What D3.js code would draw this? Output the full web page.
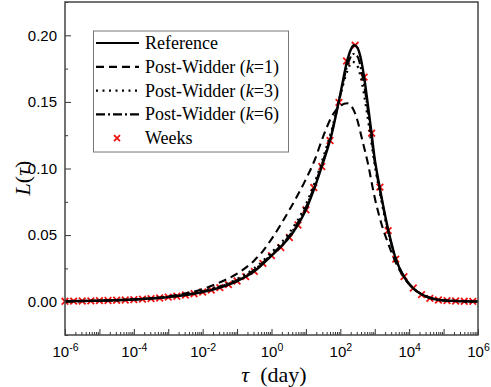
<!DOCTYPE html>
<html lang="en">
  <head>
    <meta charset="UTF-8" />
    <title>L(tau)</title>
    <style>
      body { margin: 0; background: #fff; }
      .tick text { font-family: 'Liberation Sans', Arial, sans-serif; font-size: 15px; fill: #000; }
      .tick line { stroke: #333; }
      .serif { font-family: 'Liberation Serif', 'Times New Roman', serif; }
    </style>
  </head>
  <body>
    <script src="https://d3js.org/d3.v7.min.js"></script>
    <script>
      // exponents of tau (log10 day) and L values
      const refExp = [-6, -5, -4, -3, -2.5, -2, -1.5, -1, -0.5, 0, 0.25, 0.5, 0.75, 1.0, 1.25, 1.5, 1.75, 2.0, 2.2, 2.3, 2.4, 2.5, 2.6, 2.7, 2.8, 2.9, 3.0, 3.1, 3.2, 3.4, 3.6, 3.85, 4.1, 4.4, 4.7, 5.0, 5.5, 6.0];
      const refVal = [0.0003, 0.0008, 0.0016, 0.0034, 0.005, 0.0073, 0.0106, 0.0155, 0.0228, 0.0346, 0.0407, 0.0478, 0.057, 0.069, 0.0855, 0.1045, 0.126, 0.156, 0.181, 0.189, 0.1925, 0.1905, 0.182, 0.167, 0.148, 0.128, 0.107, 0.092, 0.078, 0.053, 0.033, 0.0188, 0.0105, 0.005, 0.0022, 0.001, 0.0004, 0.0001];

      const pw1Exp = [-6, -4, -3, -2, -1.5, -1, -0.5, -0.25, 0, 0.5, 1.0, 1.25, 1.5, 1.75, 2.0, 2.2, 2.45, 2.65, 2.8, 3.0, 3.2, 3.4, 3.6, 3.85, 4.1, 4.4, 4.7, 5.0, 5.5, 6.0];
      const pw1Val = [0.0003, 0.0018, 0.004, 0.0095, 0.0145, 0.021, 0.031, 0.038, 0.047, 0.068, 0.092, 0.106, 0.124, 0.139, 0.147, 0.149, 0.14, 0.12, 0.104, 0.078, 0.058, 0.043, 0.03, 0.018, 0.0103, 0.005, 0.0022, 0.001, 0.0004, 0.0001];

      const pw3Exp = [-6, -4, -3, -2, -1, -0.5, 0, 0.5, 1.0, 1.25, 1.5, 1.75, 2.0, 2.2, 2.35, 2.45, 2.6, 2.75, 2.9, 3.0, 3.2, 3.4, 3.6, 3.85, 4.1, 4.4, 4.7, 5.0, 5.5, 6.0];
      const pw3Val = [0.0003, 0.0017, 0.0037, 0.008, 0.017, 0.025, 0.037, 0.051, 0.073, 0.089, 0.108, 0.129, 0.155, 0.173, 0.18, 0.179, 0.168, 0.146, 0.12, 0.103, 0.075, 0.051, 0.033, 0.0188, 0.0105, 0.005, 0.0022, 0.001, 0.0004, 0.0001];

      const pw6Exp = [-6, -4, -3, -2, -1, -0.5, 0, 0.5, 1.0, 1.25, 1.5, 1.75, 2.0, 2.2, 2.38, 2.5, 2.6, 2.75, 2.9, 3.0, 3.2, 3.4, 3.6, 3.85, 4.1, 4.4, 4.7, 5.0, 5.5, 6.0];
      const pw6Val = [0.0003, 0.0016, 0.0035, 0.0077, 0.0162, 0.024, 0.0355, 0.049, 0.071, 0.087, 0.106, 0.127, 0.155, 0.177, 0.186, 0.184, 0.175, 0.153, 0.124, 0.105, 0.077, 0.052, 0.033, 0.0188, 0.0105, 0.005, 0.0022, 0.001, 0.0004, 0.0001];

      const weeksExp = [-6, -5.75, -5.5, -5.25, -5, -4.75, -4.5, -4.25, -4, -3.75, -3.5, -3.25, -3, -2.75, -2.5, -2.25, -2, -1.75, -1.5, -1.25, -1, -0.75, -0.5, -0.25, 0, 0.27, 0.52, 0.77, 1.0, 1.23, 1.46, 1.7, 1.96, 2.18, 2.43, 2.69, 2.91, 3.15, 3.39, 3.61, 3.85, 4.12, 4.36, 4.6, 4.85, 5.1, 5.35, 5.6, 5.85];
      const weeksVal = [0.0003, 0.0004, 0.0005, 0.0006, 0.0008, 0.0009, 0.0011, 0.0013, 0.0016, 0.0019, 0.0023, 0.0028, 0.0034, 0.0041, 0.005, 0.006, 0.0073, 0.0088, 0.0106, 0.0128, 0.0155, 0.0188, 0.0228, 0.0288, 0.0346, 0.0407, 0.0482, 0.0576, 0.069, 0.0857, 0.1015, 0.121, 0.1496, 0.1807, 0.1925, 0.1686, 0.1265, 0.086, 0.0534, 0.032, 0.0188, 0.0103, 0.0053, 0.0025, 0.0013, 0.0008, 0.0005, 0.0003, 0.0002];

      const yTicks = [0, 0.05, 0.1, 0.15, 0.2];
      const yMinor = [-0.025, 0.025, 0.075, 0.125, 0.175, 0.225];
      const xDecades = [-6, -5, -4, -3, -2, -1, 0, 1, 2, 3, 4, 5, 6];

      const legendItems = [
        { label: 'Reference', dash: null },
        { label: 'k=1', dash: '8,5' },
        { label: 'k=3', dash: '2,4.5' },
        { label: 'k=6', dash: '9,3,2,3' },
        { label: 'Weeks', dash: 'marker' },
      ];

      const width = 491;
      const height = 387;
      const plot = { left: 65, right: 478, top: 2, bottom: 335 };

      const svg = d3.select('body').append('svg').attr('width', width).attr('height', height);

      const x = d3.scaleLog().domain([1e-6, 1e6]).range([plot.left, plot.right]);
      const y = d3.scaleLinear().domain([-0.025, 0.225]).range([plot.bottom, plot.top]);

      const zip = (ex, vals) => ex.map((e, i) => ({ t: Math.pow(10, e), v: vals[i] }));

      const line = d3
        .line()
        .x((d) => x(d.t))
        .y((d) => y(d.v))
        .curve(d3.curveMonotoneX);

      // minor x ticks (2..9 each decade)
      const minorX = [];
      xDecades.slice(0, -1).forEach((e) => {
        for (let m = 2; m <= 9; m++) minorX.push(m * Math.pow(10, e));
      });

      svg
        .append('g')
        .attr('transform', `translate(0, ${plot.bottom})`)
        .call(d3.axisBottom(x).tickValues(minorX).tickSize(-3).tickFormat(''))
        .call((g) => g.select('.domain').remove());

      const xAxis = svg
        .append('g')
        .attr('transform', `translate(0, ${plot.bottom})`)
        .call(
          d3
            .axisBottom(x)
            .tickValues(xDecades.map((e) => Math.pow(10, e)))
            .tickSize(-6)
            .tickPadding(11)
            .tickFormat('')
        )
        .call((g) => g.select('.domain').remove());

      xAxis.selectAll('.tick text').each(function (d) {
        const e = Math.round(Math.log10(d));
        if (e % 2 !== 0) return;
        const t = d3.select(this);
        t.append('tspan').text('10');
        t.append('tspan').attr('dy', '-6').attr('font-size', '10.5px').text(e);
      });

      svg
        .append('g')
        .attr('transform', `translate(${plot.left}, 0)`)
        .call(d3.axisLeft(y).tickValues(yMinor).tickSize(-3).tickFormat(''))
        .call((g) => g.select('.domain').remove());

      svg
        .append('g')
        .attr('transform', `translate(${plot.left}, 0)`)
        .call(d3.axisLeft(y).tickValues(yTicks).tickSize(-6).tickPadding(8).tickFormat(d3.format('.2f')))
        .call((g) => g.select('.domain').remove());

      // Weeks markers
      const cross = (g, cx, cy, s) => {
        g.append('path')
          .attr('d', `M${cx - s},${cy - s}L${cx + s},${cy + s}M${cx - s},${cy + s}L${cx + s},${cy - s}`)
          .attr('stroke', '#ee1111')
          .attr('stroke-width', 1.8)
          .attr('fill', 'none');
      };
      const markers = svg.append('g');
      zip(weeksExp, weeksVal).forEach((d) => cross(markers, x(d.t), y(d.v), 3.3));

      const drawLine = (data, dash, w) => {
        svg
          .append('path')
          .attr('d', line(data))
          .attr('fill', 'none')
          .attr('stroke', '#000')
          .attr('stroke-width', w)
          .attr('stroke-dasharray', dash);
      };
      drawLine(zip(pw1Exp, pw1Val), '8,5', 2.1);
      drawLine(zip(pw3Exp, pw3Val), '2,4.5', 2.3);
      drawLine(zip(pw6Exp, pw6Val), '9,3,2,3', 2.1);
      drawLine(zip(refExp, refVal), null, 2.4);

      // frame
      svg
        .append('rect')
        .attr('x', plot.left)
        .attr('y', plot.top)
        .attr('width', plot.right - plot.left)
        .attr('height', plot.bottom - plot.top)
        .attr('fill', 'none')
        .attr('stroke', '#444')
        .attr('stroke-width', 1.5);

      // legend
      const legend = svg.append('g');
      legend
        .append('rect')
        .attr('x', 93.5)
        .attr('y', 31)
        .attr('width', 195)
        .attr('height', 121)
        .attr('fill', '#fff')
        .attr('stroke', '#777')
        .attr('stroke-width', 1);

      legendItems.forEach((item, i) => {
        const cy = 43 + i * 23.8;
        if (item.dash === 'marker') {
          cross(legend, 117, cy, 3);
        } else {
          legend
            .append('line')
            .attr('x1', 96)
            .attr('x2', 139)
            .attr('y1', cy)
            .attr('y2', cy)
            .attr('stroke', '#000')
            .attr('stroke-width', 2.2)
            .attr('stroke-dasharray', item.dash);
        }
        const t = legend
          .append('text')
          .attr('class', 'serif')
          .attr('x', 145)
          .attr('y', cy + 6)
          .attr('font-size', '18px');
        if (item.label.startsWith('k=')) {
          t.append('tspan').text('Post-Widder (');
          t.append('tspan').attr('font-style', 'italic').text('k');
          t.append('tspan').text(item.label.slice(1) + ')');
        } else {
          t.text(item.label);
        }
      });

      // axis titles
      const xt = svg
        .append('text')
        .attr('class', 'serif')
        .attr('x', 274)
        .attr('y', 382)
        .attr('text-anchor', 'middle')
        .attr('font-size', '22px');
      xt.append('tspan').attr('font-style', 'italic').text('τ');
      xt.append('tspan').text('\u00a0\u00a0(day)');

      const yt = svg
        .append('text')
        .attr('class', 'serif')
        .attr('transform', 'translate(30, 178) rotate(-90)')
        .attr('text-anchor', 'middle')
        .attr('font-size', '22px');
      yt.append('tspan').attr('font-style', 'italic').text('L');
      yt.append('tspan').text('(');
      yt.append('tspan').attr('font-style', 'italic').text('τ');
      yt.append('tspan').text(')');
    </script>
  </body>
</html>
